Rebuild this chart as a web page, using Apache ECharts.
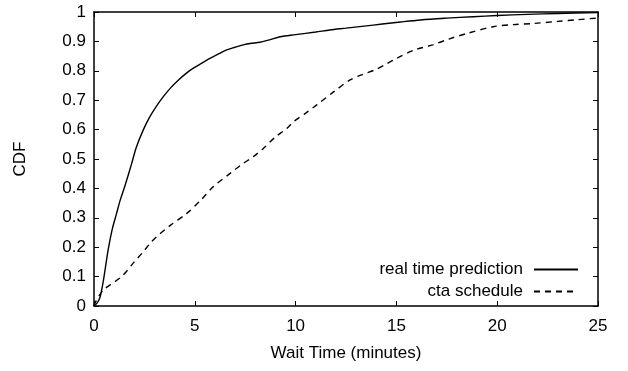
<!DOCTYPE html>
<html>
<head>
<meta charset="utf-8">
<script src="https://cdn.jsdelivr.net/npm/echarts@6/dist/echarts.min.js"></script>
<style>
  html, body { margin: 0; padding: 0; background: #fff; }
  #chart { width: 628px; height: 371px; }
</style>
</head>
<body>
<div id="chart"></div>
<script>
// wait time in minutes vs cumulative fraction
const realX = [0, 0.15, 0.3, 0.45, 0.7, 0.9, 1.12, 1.3, 1.54, 1.87, 2.1, 2.45, 2.78, 3.1, 3.44, 3.8, 4.18, 4.6, 4.93, 5.35, 5.75, 6.2, 6.58, 7.0, 7.4, 7.74, 8.23, 8.7, 9.23, 10, 11, 11.7, 12.5, 13.4, 14.3, 15.2, 16.2, 17.5, 18.8, 20, 21.5, 23, 25];
const realY = [0, 0.01, 0.03, 0.08, 0.19, 0.26, 0.315, 0.36, 0.41, 0.485, 0.54, 0.6, 0.645, 0.68, 0.712, 0.742, 0.768, 0.793, 0.809, 0.826, 0.842, 0.858, 0.871, 0.88, 0.888, 0.893, 0.897, 0.905, 0.916, 0.923, 0.932, 0.939, 0.945, 0.952, 0.959, 0.966, 0.973, 0.979, 0.984, 0.988, 0.992, 0.995, 0.998];

const ctaX = [0, 0.05, 0.46, 1.37, 2.0, 2.45, 2.78, 3.11, 3.8, 4.6, 5.3, 5.92, 6.75, 7.3, 7.9, 8.4, 9.0, 9.56, 9.9, 10.5, 11.05, 11.9, 12.7, 13.3, 14.0, 14.5, 15.0, 15.9, 16.8, 17.6, 18.5, 19.8, 20.8, 21.8, 23, 24, 24.9];
const ctaY = [0, 0.01, 0.054, 0.1, 0.15, 0.185, 0.213, 0.236, 0.275, 0.315, 0.36, 0.406, 0.451, 0.48, 0.508, 0.536, 0.575, 0.604, 0.627, 0.656, 0.684, 0.729, 0.769, 0.787, 0.805, 0.823, 0.842, 0.871, 0.888, 0.908, 0.927, 0.95, 0.957, 0.961, 0.968, 0.974, 0.979];

const seriesNames = ["real time prediction", "cta schedule"];

const zip = (xs, ys) => xs.map((x, i) => [x, ys[i]]);

const chart = echarts.init(document.getElementById("chart"));

const font = "'Liberation Sans', Arial, sans-serif";
const fs = 17;
const tickLabel = { color: "#000", fontSize: fs, fontFamily: font };
const axisLine = { show: true, onZero: false, lineStyle: { color: "#000", width: 1.5 } };
const axisTick = { show: true, inside: true, length: 5, lineStyle: { color: "#000", width: 1 } };

const option = {
  animation: false,
  grid: { left: 94, right: 30, top: 12, bottom: 65 },
  legend: {
    orient: "vertical",
    right: 44,
    top: 256,
    align: "right",
    itemWidth: 44,
    itemHeight: 14,
    itemGap: 5,
    itemStyle: { opacity: 0 },
    textStyle: { color: "#000", fontSize: fs, fontFamily: font, padding: [0, 6, 0, 0] },
    data: seriesNames
  },
  xAxis: [
    {
      type: "value",
      min: 0,
      max: 25,
      interval: 5,
      name: "Wait Time (minutes)",
      nameLocation: "middle",
      nameGap: 39,
      nameTextStyle: { color: "#000", fontSize: fs, fontFamily: font },
      axisLine: axisLine,
      axisTick: axisTick,
      axisLabel: { ...tickLabel, margin: 12 },
      splitLine: { show: false }
    },
    {
      type: "value",
      position: "top",
      min: 0,
      max: 25,
      interval: 5,
      axisLine: axisLine,
      axisTick: axisTick,
      axisLabel: { show: false },
      splitLine: { show: false }
    }
  ],
  yAxis: [
    {
      type: "value",
      min: 0,
      max: 1,
      interval: 0.1,
      name: "CDF",
      nameLocation: "middle",
      nameGap: 65,
      nameTextStyle: { color: "#000", fontSize: fs, fontFamily: font },
      axisLine: axisLine,
      axisTick: axisTick,
      axisLabel: { ...tickLabel, margin: 8, formatter: v => String(Math.round(v * 10) / 10) },
      splitLine: { show: false }
    },
    {
      type: "value",
      position: "right",
      min: 0,
      max: 1,
      interval: 0.1,
      axisLine: axisLine,
      axisTick: axisTick,
      axisLabel: { show: false },
      splitLine: { show: false }
    }
  ],
  series: [
    {
      name: seriesNames[0],
      type: "line",
      data: zip(realX, realY),
      showSymbol: false,
      symbol: "none",
      smooth: 0.3,
      lineStyle: { color: "#000", width: 1.4, type: "solid" },
      itemStyle: { color: "#000" }
    },
    {
      name: seriesNames[1],
      type: "line",
      data: zip(ctaX, ctaY),
      showSymbol: false,
      symbol: "none",
      smooth: 0.3,
      lineStyle: { color: "#000", width: 1.4, type: [6, 5] },
      itemStyle: { color: "#000" }
    }
  ]
};

chart.setOption(option);
</script>
</body>
</html>
